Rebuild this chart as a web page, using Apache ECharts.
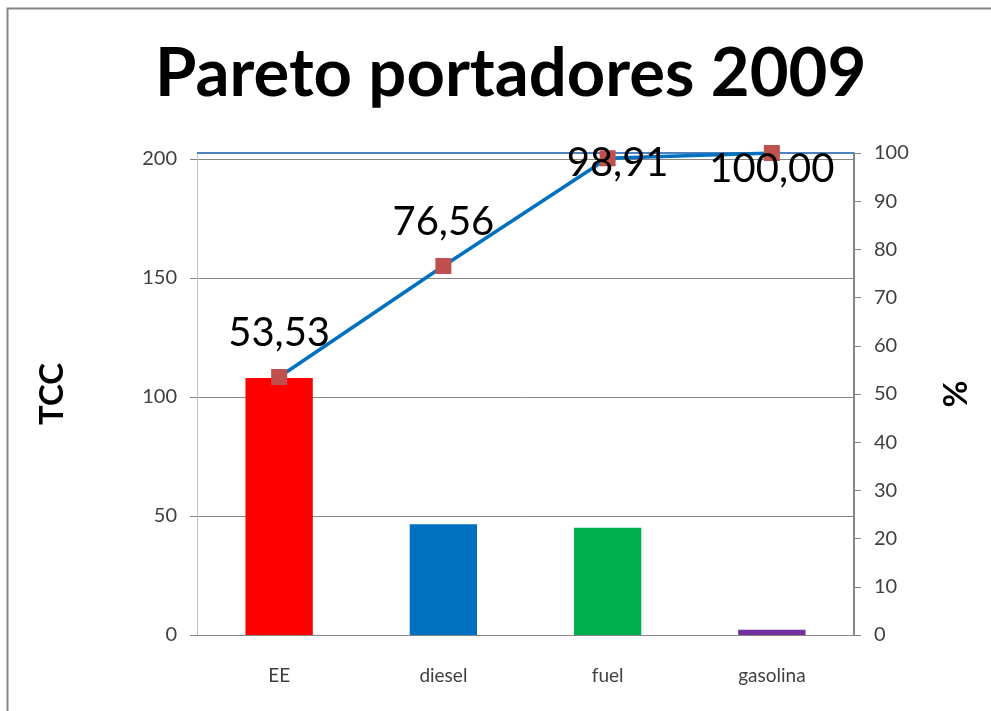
<!DOCTYPE html>
<html>
<head>
<meta charset="utf-8">
<script src="https://cdn.jsdelivr.net/npm/echarts@6/dist/echarts.min.js"></script>
<style>
  html, body { margin: 0; padding: 0; background: #fff; }
  #chart { width: 991px; height: 711px; }
</style>
</head>
<body>
<div id="chart"></div>
<script>
// datos
var categories = ['EE', 'diesel', 'fuel', 'gasolina']
var tccValues = [108, 46.5, 45.1, 2.2]
var cumPercent = [53.53, 76.56, 98.91, 100.00]
var barColors = ['#FF0000', '#0070C0', '#00B050', '#7030A0']

// posicion de las etiquetas (Excel las mete dentro del area)
var labelOffsets = [null, null, [10, 5], [0, 16]]

var myChart = echarts.init(document.getElementById('chart'))

var fmt = function(v) {
  return Number(v).toFixed(2).replace('.', ',')
}

var option = {
  animation: false,
  title: {
    text: 'Pareto portadores 2009',
    left: 150,
    top: 36,
    textStyle: { fontFamily: 'Lato', fontWeight: 'bold', fontSize: 67, color: '#000' }
  },
  graphic: [{
    type: 'polyline',
    shape: { points: [[7.5, 711], [7.5, 8.5], [991, 8.5]] },
    style: { stroke: '#868686', lineWidth: 2, fill: null }
  }],
  grid: { left: 197, right: 137, top: 153, bottom: 76 },
  xAxis: {
    type: 'category',
    data: categories,
    axisLine: { lineStyle: { color: '#868686' } },
    axisTick: { length: 8, lineStyle: { color: '#868686' } },
    axisLabel: { margin: 31, fontFamily: 'Lato', fontSize: 19, color: '#404040' }
  },
  yAxis: [{
    type: 'value',
    min: 0,
    max: 202.5,
    interval: 50,
    name: 'TCC',
    nameLocation: 'middle',
    nameRotate: 90,
    nameGap: 128,
    nameTextStyle: { fontFamily: 'Lato', fontWeight: 'bold', fontSize: 33, color: '#000' },
    axisLine: { show: true, lineStyle: { color: '#BFBFBF' } },
    axisTick: { show: true, length: 7, lineStyle: { color: '#868686' } },
    axisLabel: {
      margin: 20, fontFamily: 'Lato', fontSize: 20, color: '#404040', showMaxLabel: false,
      formatter: function(v) { return v % 50 === 0 ? v : '' }
    },
    splitLine: { lineStyle: { color: '#868686' } }
  }, {
    type: 'value',
    min: 0,
    max: 100,
    interval: 10,
    name: '%',
    nameLocation: 'middle',
    nameRotate: 90,
    nameGap: 86,
    nameTextStyle: { fontFamily: 'Lato', fontWeight: 'bold', fontSize: 33, color: '#000' },
    axisLine: { show: true, lineStyle: { color: '#868686', width: 2 } },
    axisTick: { show: true, length: 7, lineStyle: { color: '#868686' } },
    axisLabel: { margin: 20, fontFamily: 'Lato', fontSize: 20, color: '#404040' },
    splitLine: { show: false }
  }],
  series: [{
    name: 'TCC',
    type: 'bar',
    yAxisIndex: 0,
    barWidth: '41%',
    data: tccValues.map(function(v, i) {
      return { value: v, itemStyle: { color: barColors[i] } }
    })
  }, {
    name: '%',
    type: 'line',
    yAxisIndex: 1,
    symbol: 'rect',
    symbolSize: 16,
    itemStyle: { color: '#C0504D' },
    lineStyle: { color: '#0070C0', width: 3.5 },
    z: 5,
    label: {
      show: true,
      position: 'top',
      distance: 16,
      fontFamily: 'Lato',
      fontSize: 40,
      color: '#000',
      formatter: function(p) { return fmt(p.value) }
    },
    data: cumPercent.map(function(v, i) {
      var item = { value: v }
      if (labelOffsets[i]) {
        item.label = { position: 'inside', offset: labelOffsets[i] }
      }
      return item
    }),
    markLine: {
      silent: true,
      symbol: 'none',
      label: { show: false },
      lineStyle: { color: '#4F81BD', width: 2, type: 'solid' },
      data: [{ yAxis: 100 }]
    }
  }]
}

myChart.setOption(option, true)
window.onresize = () => {
  myChart.resize()
}
</script>
</body>
</html>
